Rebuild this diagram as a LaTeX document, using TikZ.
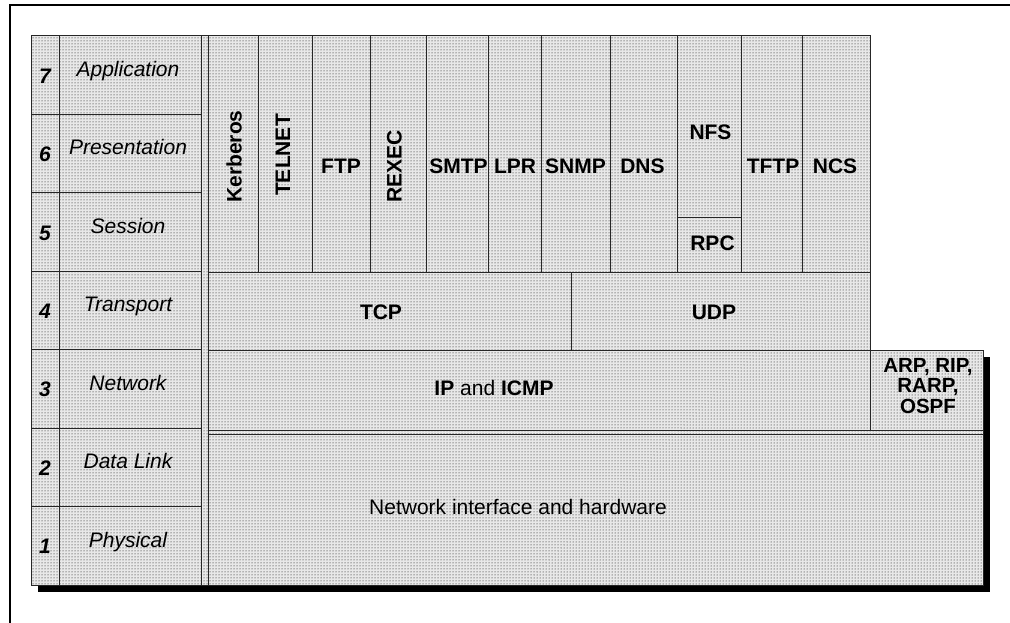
\documentclass[tikz,border=0pt]{standalone}
\usepackage{fontspec}
\setmainfont{Liberation Sans}
\usetikzlibrary{patterns}
\begin{document}
\begin{tikzpicture}[x=1pt,y=-1pt,
  stipple/.style={preaction={fill=black!9}, pattern=dots, pattern color=black},
  edge/.style={draw=black!85, line width=1pt},
  lab/.style={inner sep=0pt, anchor=base, font=\fontsize{21}{24}\selectfont},
  layer/.style={lab, font=\fontsize{21}{24}\selectfont\itshape},
  num/.style={lab, font=\fontsize{21}{24}\selectfont\bfseries\itshape},
  proto/.style={lab, font=\fontsize{21}{24}\selectfont\bfseries},
  vproto/.style={proto, rotate=90},
]
\useasboundingbox (0,0) rectangle (1010,623);
% outer frame (top and left)
\draw[line width=2pt] (10,623) -- (10,5) -- (1010,5);
% shadow
\fill (38,585) rectangle (990,592);
\fill (983,357) rectangle (990,592);
% stippled background
\path[stipple] (31,36) -- (870,36) -- (870,351) -- (983,351) -- (983,585) -- (31,585) -- cycle;
% left OSI table
\draw[edge] (31,36) rectangle (201,585);
\draw[edge] (59,36) -- (59,585);
\foreach \k in {1,...,6} \draw[edge] (31,{36+78.43*\k}) -- (201,{36+78.43*\k});
\draw[edge] (201,36) -- (208,36);
\draw[edge] (201,585) -- (208,585);
\draw[edge] (208,36) -- (208,585);
% application row
\draw[edge] (208,36) rectangle (870,272);
\foreach \x in {258.7,312,370,426,488.7,541.3,610,677.7,741.7,802.7} \draw[edge] (\x,36) -- (\x,272);
\draw[edge] (677.7,217.7) -- (741.7,217.7);
% transport row
\draw[edge] (208,272) rectangle (870,350.7);
\draw[edge] (571.7,272) -- (571.7,350.7);
% network row
\draw[edge] (208,350.7) rectangle (983,430);
\draw[edge] (870,350.7) -- (870,430);
% link/physical
\draw[edge] (208,434) rectangle (983,585);
\draw[edge] (983,430) -- (983,434);

% layer numbers
\node[num] (n7) at (45,83.2) {7};
\node[num] (n6) at (45,161.6) {6};
\node[num] (n5) at (45,240.1) {5};
\node[num] (n4) at (45,318.5) {4};
\node[num] (n3) at (45,396.9) {3};
\node[num] (n2) at (45,475.4) {2};
\node[num] (n1) at (45,553.8) {1};
% layer names
\node[layer] (l7) at (128,76.5) {Application};
\node[layer] (l6) at (128,154.9) {Presentation};
\node[layer] (l5) at (128,233.4) {Session};
\node[layer] (l4) at (128,311.8) {Transport};
\node[layer] (l3) at (128,390.2) {Network};
\node[layer] (l2) at (128,468.7) {Data Link};
\node[layer] (l1) at (128,547.1) {Physical};
% application protocols
\node[vproto] (kerb) at (241.5,156.5) {Kerberos};
\node[vproto] (telnet) at (290,155) {TELNET};
\node[proto] (ftp) at (341,174) {FTP};
\node[vproto] (rexec) at (401.5,166.5) {REXEC};
\node[proto] (smtp) at (458.5,174) {SMTP};
\node[proto] (lpr) at (515,174) {LPR};
\node[proto] (snmp) at (575.5,174) {SNMP};
\node[proto] (dns) at (642.5,174) {DNS};
\node[proto] (nfs) at (710.5,140) {NFS};
\node[proto] (rpc) at (712.5,250) {RPC};
\node[proto] (tftp) at (773,174) {TFTP};
\node[proto] (ncs) at (835,174) {NCS};
% transport
\node[proto] (tcp) at (381,319.3) {TCP};
\node[proto] (udp) at (714,319.3) {UDP};
% network
\node[lab] (ip) at (494,395) {\bfseries IP \mdseries and \bfseries ICMP};
\node[proto, anchor=center, align=center, font=\fontsize{20.5}{20.5}\selectfont\bfseries] (arp) at (928,386) {ARP, RIP,\\RARP,\\OSPF};
% link
\node[lab] (hw) at (518,514) {Network interface and hardware};
\end{tikzpicture}
\end{document}
